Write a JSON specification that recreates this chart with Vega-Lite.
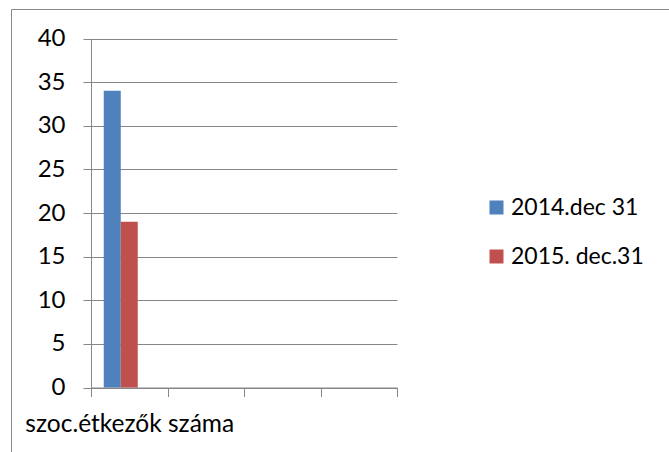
{
  "$schema": "https://vega.github.io/schema/vega-lite/v6.json",
  "autosize": {"type": "none"},
  "width": 659,
  "height": 444,
  "padding": {"left": 11, "top": 9, "right": 0, "bottom": 0},
  "background": "white",
  "config": {
    "view": {"stroke": "#888888", "strokeWidth": 1},
    "font": "Lato",
    "axis": {"labelFont": "Lato", "labelColor": "#000000"}
  },
  "data": {
    "values": [
      {"category": "szoc.étkezők száma", "series": "2014.dec 31", "value": 34},
      {"category": "szoc.étkezők száma", "series": "2015. dec.31", "value": 19}
    ]
  },
  "mark": {"type": "bar"},
  "encoding": {
    "x": {
      "field": "category",
      "type": "nominal",
      "sort": null,
      "scale": {
        "domain": ["szoc.étkezők száma", " ", "  ", "   "],
        "range": [80, 386],
        "paddingInner": 0,
        "paddingOuter": 0
      },
      "axis": {
        "title": null,
        "offset": -65.5,
        "labelAngle": 0,
        "labelFontSize": 24.5,
        "labelPadding": 16,
        "labelOverlap": false,
        "labelLimit": 400,
        "tickBand": "extent",
        "tickSize": 9,
        "tickColor": "#868686",
        "domainColor": "#868686",
        "grid": false
      }
    },
    "xOffset": {
      "field": "series",
      "type": "nominal",
      "scale": {
        "domain": ["2014.dec 31", "2015. dec.31", "s3"],
        "paddingInner": 0,
        "paddingOuter": 0.75
      }
    },
    "y": {
      "field": "value",
      "type": "quantitative",
      "scale": {"domain": [0, 40], "range": [378.5, 29.5], "nice": false, "zero": true},
      "axis": {
        "title": null,
        "offset": -80,
        "values": [0, 5, 10, 15, 20, 25, 30, 35, 40],
        "labelFontSize": 24,
        "labelPadding": 18,
        "tickSize": 8,
        "tickColor": "#868686",
        "domainColor": "#868686",
        "gridColor": "#868686",
        "grid": true
      }
    },
    "color": {
      "field": "series",
      "type": "nominal",
      "scale": {"domain": ["2014.dec 31", "2015. dec.31"], "range": ["#4F81BD", "#C0504D"]},
      "legend": {
        "title": null,
        "orient": "none",
        "legendX": 474,
        "legendY": 187,
        "symbolType": "square",
        "symbolSize": 196,
        "symbolStrokeWidth": 0,
        "labelFontSize": 23,
        "labelFont": "Lato",
        "labelColor": "#000000",
        "labelOffset": 3,
        "rowPadding": 25
      }
    }
  }
}
